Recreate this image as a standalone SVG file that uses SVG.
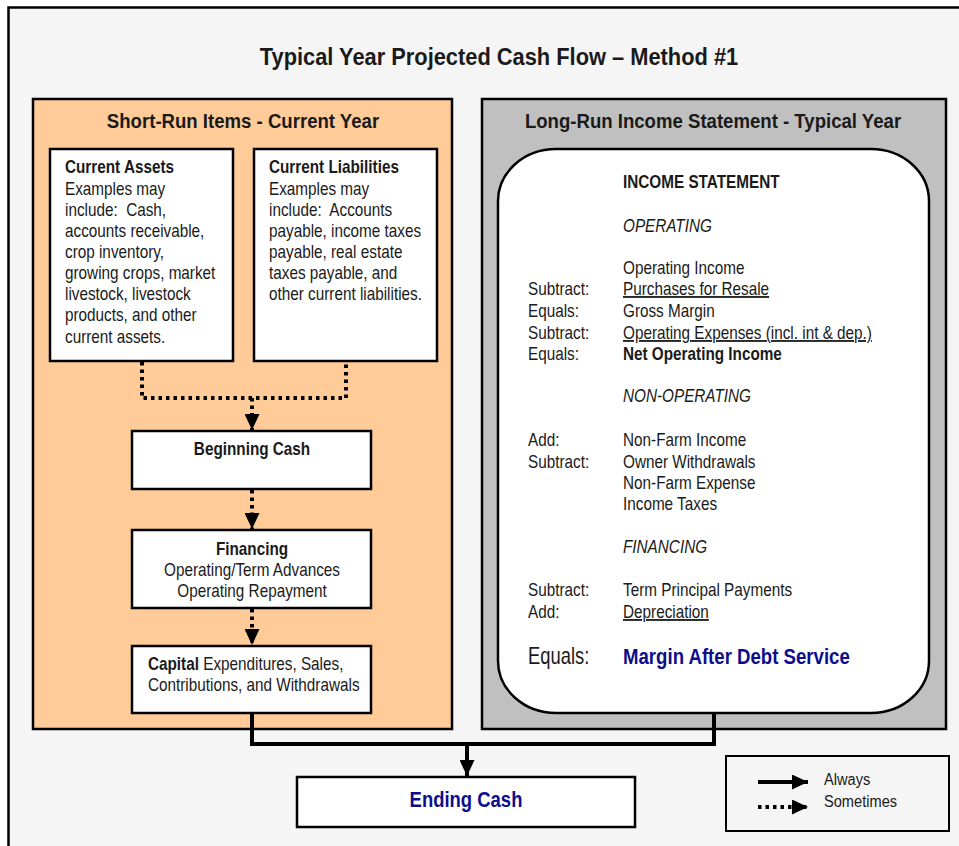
<svg xmlns="http://www.w3.org/2000/svg" width="959" height="846" viewBox="0 0 959 846">
<defs>
<style>
text{font-family:"Liberation Sans Narrow","Arial Narrow","Liberation Sans",sans-serif;fill:#1a1a1a;font-size:18px}
.b{font-weight:bold}
.i{font-style:italic}
.u{text-decoration:underline}
.mid{text-anchor:middle}
.blue{fill:#0d0d8c}
.box{fill:#fff;stroke:#000;stroke-width:2.5}
.solid{fill:none;stroke:#000;stroke-width:4}
.dot{fill:none;stroke:#000;stroke-width:4;stroke-dasharray:3.5 4}
</style>
<marker id="ah" viewBox="0 0 16 15" refX="16" refY="7.5" markerWidth="16" markerHeight="15" markerUnits="userSpaceOnUse" orient="auto">
<path d="M0,0 L16,7.5 L0,15 Z" fill="#000"/>
</marker>
</defs>
<rect x="0" y="0" width="959" height="846" fill="#fff"/>
<rect x="8.5" y="7.5" width="960" height="850" fill="#f5f5f5" stroke="#000" stroke-width="2.5"/>
<g transform="translate(499,0) scale(0.91,1)"><text class="b mid" x="0" y="65" style="font-size:24px">Typical Year Projected Cash Flow – Method #1</text></g>

<g id="short-run">
<rect x="33" y="99" width="419" height="630" fill="#ffcc99" stroke="#000" stroke-width="2.5"/>
<g transform="translate(243,0) scale(0.93,1)"><text class="b mid" x="0" y="128" style="font-size:20px">Short-Run Items - Current Year</text></g>
</g>
<g id="long-run">
<rect x="482" y="99" width="464" height="630" fill="#c0c0c0" stroke="#000" stroke-width="2.5"/>
<g transform="translate(713,0) scale(0.93,1)"><text class="b mid" x="0" y="128" style="font-size:20px">Long-Run Income Statement - Typical Year</text></g>
</g>

<g id="current-assets">
<rect class="box" x="50" y="149" width="183" height="212"/>
<g transform="translate(65,0) scale(0.85,1)">
<text x="0" y="173" class="b">Current Assets</text>
<text x="0" y="195">Examples may</text>
<text x="0" y="216" xml:space="preserve">include:  Cash,</text>
<text x="0" y="237">accounts receivable,</text>
<text x="0" y="258">crop inventory,</text>
<text x="0" y="279">growing crops, market</text>
<text x="0" y="300">livestock, livestock</text>
<text x="0" y="321">products, and other</text>
<text x="0" y="343">current assets.</text>
</g>
</g>
<g id="current-liabilities">
<rect class="box" x="254" y="149" width="183" height="212"/>
<g transform="translate(269,0) scale(0.85,1)">
<text x="0" y="173" class="b">Current Liabilities</text>
<text x="0" y="195">Examples may</text>
<text x="0" y="216" xml:space="preserve">include:  Accounts</text>
<text x="0" y="237">payable, income taxes</text>
<text x="0" y="258">payable, real estate</text>
<text x="0" y="279">taxes payable, and</text>
<text x="0" y="300">other current liabilities.</text>
</g>
</g>
<g id="beginning-cash">
<rect class="box" x="132" y="431" width="239" height="58"/>
<g transform="translate(252,0) scale(0.85,1)"><text class="b mid" x="0" y="455">Beginning Cash</text></g>
</g>
<g id="financing">
<rect class="box" x="132" y="530" width="239" height="78"/>
<g transform="translate(252,0) scale(0.85,1)">
<text class="b mid" x="0" y="555">Financing</text>
<text class="mid" x="0" y="576">Operating/Term Advances</text>
<text class="mid" x="0" y="597">Operating Repayment</text>
</g>
</g>
<g id="capital">
<rect class="box" x="132" y="646" width="239" height="67"/>
<g transform="translate(148,0) scale(0.85,1)">
<text x="0" y="670"><tspan class="b">Capital</tspan> Expenditures, Sales,</text>
<text x="0" y="691">Contributions, and Withdrawals</text>
</g>
</g>
<g id="income-statement">
<rect class="box" x="498" y="149" width="431" height="564" rx="58" ry="52"/>
<g transform="translate(528,0) scale(0.85,1)">
<text x="0" y="295">Subtract:</text>
<text x="0" y="317">Equals:</text>
<text x="0" y="339">Subtract:</text>
<text x="0" y="360">Equals:</text>
<text x="0" y="446">Add:</text>
<text x="0" y="468">Subtract:</text>
<text x="0" y="596">Subtract:</text>
<text x="0" y="618">Add:</text>
</g>
<g transform="translate(623,0) scale(0.85,1)">
<text x="0" y="188" class="b">INCOME STATEMENT</text>
<text x="0" y="232" class="i">OPERATING</text>
<text x="0" y="274">Operating Income</text>
<text x="0" y="295" class="u">Purchases for Resale</text>
<text x="0" y="317">Gross Margin</text>
<text x="0" y="339" class="u">Operating Expenses (incl. int &amp; dep.)</text>
<text x="0" y="360" class="b">Net Operating Income</text>
<text x="0" y="402" class="i">NON-OPERATING</text>
<text x="0" y="446">Non-Farm Income</text>
<text x="0" y="468">Owner Withdrawals</text>
<text x="0" y="489">Non-Farm Expense</text>
<text x="0" y="510">Income Taxes</text>
<text x="0" y="553" class="i">FINANCING</text>
<text x="0" y="596">Term Principal Payments</text>
<text x="0" y="618" class="u">Depreciation</text>
</g>
<g transform="translate(528,0) scale(0.8,1)"><text x="0" y="664" style="font-size:23px">Equals:</text></g>
<g transform="translate(623,0) scale(0.81,1)"><text x="0" y="664" class="b blue" style="font-size:23px">Margin After Debt Service</text></g>
</g>
<g id="ending-cash">
<rect class="box" x="297" y="777" width="338" height="50"/>
<g transform="translate(466,0) scale(0.84,1)"><text class="b mid blue" x="0" y="807" style="font-size:22px">Ending Cash</text></g>
</g>
<g id="legend">
<rect x="726" y="756" width="223" height="75" fill="#f5f5f5" stroke="#000" stroke-width="2"/>
<line class="solid" x1="758" y1="782" x2="808" y2="782" marker-end="url(#ah)"/>
<line class="dot" x1="758" y1="807" x2="808" y2="807" marker-end="url(#ah)"/>
<g transform="translate(824,0) scale(0.86,1)">
<text x="0" y="785" style="font-size:17px">Always</text>
<text x="0" y="807" style="font-size:17px">Sometimes</text>
</g>
</g>
<g id="connectors">
<path class="dot" d="M142,362 V398 H346 V362"/>
<path class="dot" d="M252,398 V430" marker-end="url(#ah)"/>
<path class="dot" d="M252,490 V529" marker-end="url(#ah)"/>
<path class="dot" d="M252,609 V645" marker-end="url(#ah)"/>
<path class="solid" d="M252,713 V744 H714 V713"/>
<path class="solid" d="M467,744 V776" marker-end="url(#ah)"/>
</g>
</svg>
